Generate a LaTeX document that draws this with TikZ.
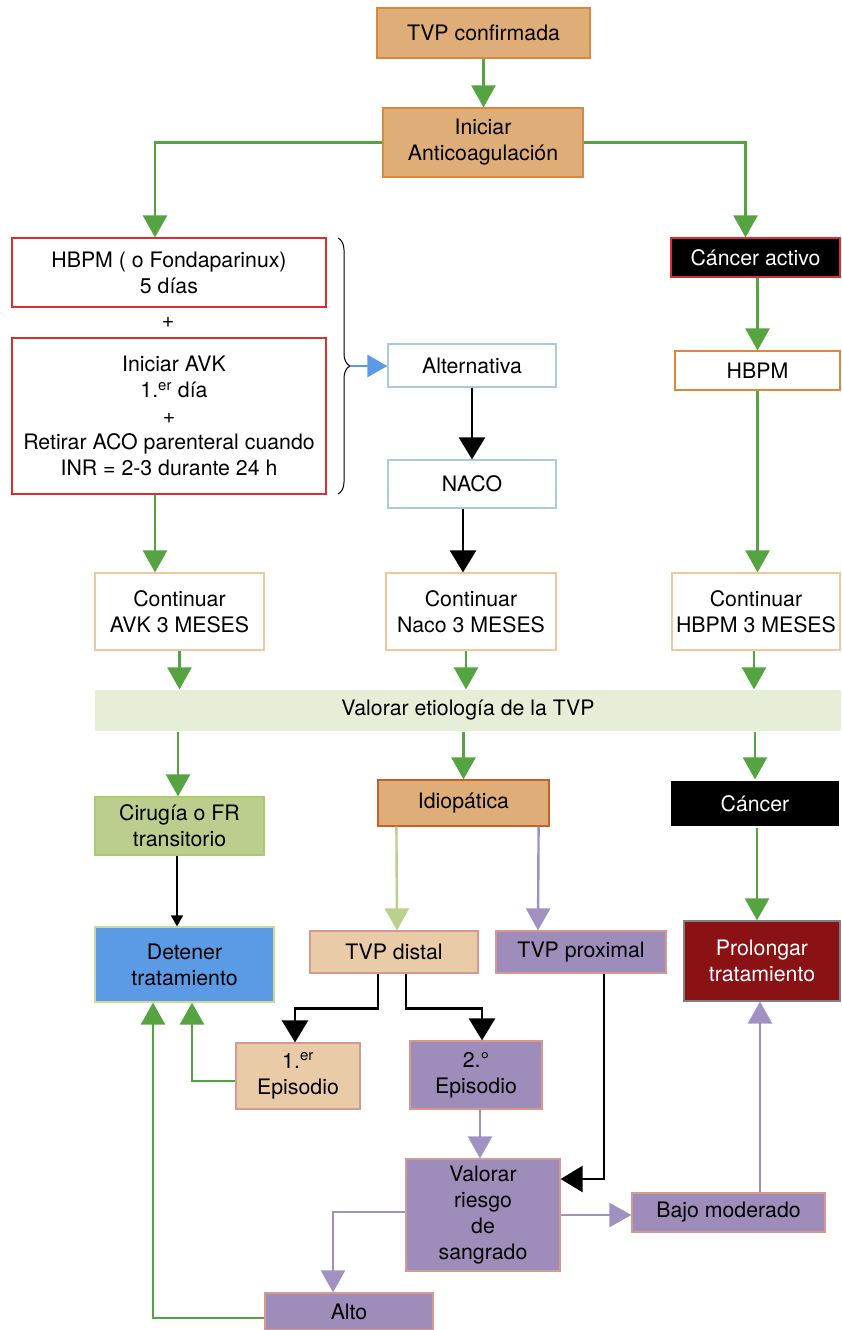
\documentclass[tikz,border=0pt]{standalone}
\usepackage{fontspec}
\setmainfont{TeX Gyre Heros}
\usetikzlibrary{arrows.meta,calc,decorations.pathreplacing}
\definecolor{tanfill}{HTML}{DFAD78}
\definecolor{tanborder}{HTML}{D8893F}
\definecolor{idioborder}{HTML}{C0622A}
\definecolor{redborder}{HTML}{D9302F}
\definecolor{lblue}{HTML}{A8CADB}
\definecolor{orangeborder}{HTML}{E0883A}
\definecolor{lorange}{HTML}{F0C8A0}
\definecolor{garrow}{HTML}{56A342}
\definecolor{barrow}{HTML}{5B9BE6}
\definecolor{barfill}{HTML}{E6EED8}
\definecolor{cirfill}{HTML}{BBCE8D}
\definecolor{cirborder}{HTML}{A9CC6A}
\definecolor{lgarrow}{HTML}{BCCF8D}
\definecolor{purp}{HTML}{9E8CBA}
\definecolor{parrow}{HTML}{A091C2}
\definecolor{pink}{HTML}{D49A90}
\definecolor{distfill}{HTML}{EACBA8}
\definecolor{detborder}{HTML}{C8DC9A}
\definecolor{prolfill}{HTML}{8B1214}
\begin{document}
\begin{tikzpicture}[x=1pt,y=-1pt,font=\fontsize{21.3}{26}\selectfont,
  box/.style={draw, line width=1.2pt, inner sep=0pt, align=center, text=black},
  gline/.style={draw=garrow, line width=2.6pt, -{Triangle[width=24pt,length=22pt]}},
  bline/.style={draw=black, line width=2.6pt, -{Triangle[width=26pt,length=22pt]}},
  pline/.style={draw=parrow, line width=2.4pt, -{Triangle[width=24pt,length=22pt]}},
  lgline/.style={draw=lgarrow, line width=2.4pt, -{Triangle[width=24pt,length=22pt]}},
  blueline/.style={draw=barrow, line width=2.6pt, -{Triangle[width=22pt,length=20pt]}},
  thinline/.style={draw=black, line width=1.2pt, -{Triangle[width=12pt,length=11pt]}}]
\useasboundingbox (0,0) rectangle (841,1330);

\node[box, fill=tanfill, draw=tanborder, minimum width=213pt, minimum height=50pt] (tvp) at (483.5,33) {TVP confirmada};
\node[box, fill=tanfill, draw=tanborder, minimum width=200pt, minimum height=69pt] (ini) at (483,142.5) {Iniciar\\Anticoagulación};

\node[box, draw=redborder, fill=white, minimum width=314pt, minimum height=69pt] (hbpmF) at (169,272.5) {HBPM ( o Fondaparinux)\\5 días};
\node (plus) at (168,322) {+};
\node[box, draw=redborder, fill=white, minimum width=314pt, minimum height=156pt] (avk) at (169,416) {\hspace*{10pt}Iniciar AVK\\\hspace*{10pt}1.\textsuperscript{er} día\\+\\Retirar ACO parenteral cuando\\INR = 2-3 durante 24 h};

\node[box, draw=lblue, fill=white, minimum width=168pt, minimum height=43pt] (alt) at (472,365.5) {Alternativa};
\node[box, draw=lblue, fill=white, minimum width=168pt, minimum height=48pt] (naco) at (472,484) {NACO};

\node[box, draw=redborder, fill=black, text=white, minimum width=169pt, minimum height=39pt] (canact) at (755.5,257.5) {Cáncer activo};
\node[box, draw=orangeborder, fill=white, minimum width=165pt, minimum height=39pt] (hbpm) at (757.5,370.5) {HBPM};

\node[box, draw=lorange, fill=white, minimum width=169pt, minimum height=77pt] (cavk) at (179.5,611.5) {Continuar\\AVK 3 MESES};
\node[box, draw=lorange, fill=white, minimum width=170pt, minimum height=77pt] (cnaco) at (471,611.5) {Continuar\\Naco 3 MESES};
\node[box, draw=lorange, fill=white, minimum width=168pt, minimum height=77pt] (chbpm) at (756,611.5) {Continuar\\HBPM 3 MESES};

\node[box, draw=none, fill=barfill, minimum width=746pt, minimum height=41pt] (bar) at (468,710.5) {Valorar etiología de la TVP};

\node[box, fill=cirfill, draw=cirborder, minimum width=169pt, minimum height=58pt] (cir) at (179.5,826) {Cirugía o FR\\transitorio};
\node[box, fill=tanfill, draw=idioborder, minimum width=171pt, minimum height=46pt] (idio) at (463.5,803) {Idiopática};
\node[box, fill=black, draw=white, text=white, minimum width=170pt, minimum height=47pt] (cancer) at (755,803.5) {Cáncer};

\node[box, fill=barrow, draw=detborder, minimum width=179pt, minimum height=75pt] (det) at (184.5,964.5) {Detener\\tratamiento};
\node[box, fill=distfill, draw=pink, minimum width=168pt, minimum height=42pt] (dist) at (394,952) {TVP distal};
\node[box, fill=purp, draw=pink, minimum width=170pt, minimum height=42pt] (prox) at (581,952) {TVP proximal};
\node[box, fill=prolfill, draw=gray, text=white, minimum width=156pt, minimum height=80pt] (prol) at (762,961) {Prolongar\\tratamiento};

\node[box, fill=distfill, draw=pink, minimum width=124pt, minimum height=66pt] (ep1) at (298,1076) {1.\textsuperscript{er}\\Episodio};
\node[box, fill=purp, draw=pink, minimum width=132pt, minimum height=68pt] (ep2) at (476,1075) {2.°\\Episodio};

\node[box, fill=purp, draw=pink, minimum width=154pt, minimum height=112pt] (val) at (483,1215) {Valorar\\riesgo\\de\\sangrado};
\node[box, fill=purp, draw=pink, minimum width=193pt, minimum height=39pt] (bajo) at (728.5,1212.5) {Bajo moderado};
\node[box, fill=purp, draw=pink, minimum width=168pt, minimum height=37pt] (alto) at (349,1311.5) {Alto};

% brace
\draw[line width=1pt, decorate, decoration={brace, amplitude=12pt}] (338,238) -- (338,494);
\coordinate (brtip) at (351,366);
\coordinate (cirin) at ($(cir.north)+(-1.5,0)$);

% connectors
\draw[gline] (tvp.south) -- (tvp.south |- ini.north);
\draw[gline] (ini.west) -| ($(hbpmF.north)+(-14,0)$);
\draw[gline] (ini.east) -| ($(canact.north)+(-10,0)$);
\draw[blueline] (brtip) -- (alt.west |- brtip);
\draw[bline] (alt.south) -- (naco.north);
\draw[bline] ($(naco.south)+(-9,0)$) -- ($(cnaco.north)+(-8,0)$);
\draw[gline] ($(avk.south)+(-14,0)$) -- ($(cavk.north)+(-24.5,0)$);
\draw[gline] (canact.south -| hbpm.north) -- (hbpm.north);
\draw[gline] (hbpm.south) -- (hbpm.south |- chbpm.north);

\draw[gline] (cavk.south) -- (cavk.south |- bar.north);
\draw[gline] ($(cnaco.south)+(-5,0)$) -- ($(bar.north)+(-2,0)$);
\draw[gline] ($(chbpm.south)+(-2,0)$) -- ($(bar.north)+(286,0)$);

\draw[gline] (cirin |- bar.south) -- (cirin);
\draw[gline] (idio.north |- bar.south) -- (idio.north);
\draw[gline] (cancer.north |- bar.south) -- (cancer.north);

\draw[lgline] ($(idio.south west)+(19,0)$) -- ($(dist.north)+(3,0)$);
\draw[pline] ($(idio.south east)+(-11,0)$) -- ($(prox.north)+(-43,0)$);
\draw[gline] ($(cancer.south)+(2,0)$) -- ($(prol.north)+(-5,0)$);

\draw[thinline] ($(cir.south)+(-2.5,0)$) -- ($(det.north)+(-7.5,0)$);

\draw[bline] ($(dist.south)+(-16,0)$) -- ++(0,35) -| ($(ep1.north)+(-3,0)$);
\draw[bline] ($(dist.south)+(12,0)$) -- ++(0,35) -| ($(ep2.north)+(6,0)$);

\draw[gline] ($(ep1.west)+(0,5)$) -| ($(det.south)+(7.5,0)$);
\draw[gline] ($(alto.west)+(0,6.5)$) -| ($(det.south)+(-31.5,0)$);

\draw[pline] ($(ep2.south)+(4,0)$) -- ($(val.north)+(-3,0)$);
\draw[bline] ($(prox.south)+(23,0)$) |- ($(val.east)+(0,-36)$);
\draw[pline] (val.east) -- (val.east -| bajo.west);
\draw[pline] ($(bajo.north)+(31.5,0)$) -- ($(prol.south)+(-2,0)$);
\draw[pline] ($(val.west)+(0,-3)$) -| ($(alto.north)+(-16,0)$);
\end{tikzpicture}
\end{document}
